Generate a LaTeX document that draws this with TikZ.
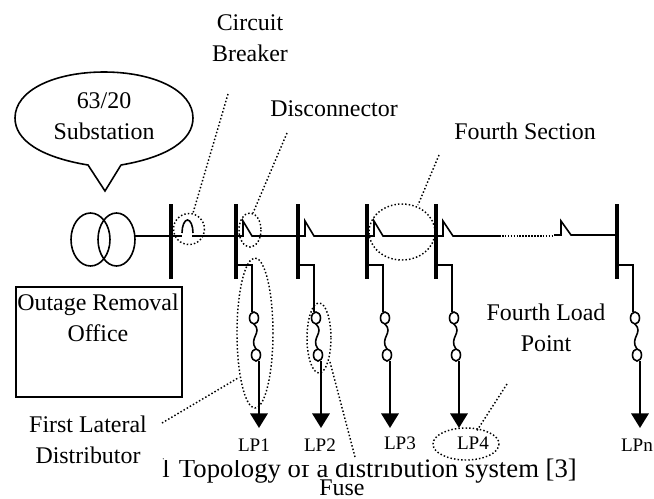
\documentclass[tikz,border=0pt]{standalone}
\usepackage{fontspec}
\setmainfont{Liberation Serif}
\usetikzlibrary{arrows.meta,calc}
\tikzset{
  lbl/.style={font=\fontsize{18}{23}\selectfont,align=center,inner sep=0pt},
  lpname/.style={font=\fontsize{14.4}{17}\selectfont,inner sep=0pt},
  ring/.style={draw,line width=1.1pt,dash pattern=on 1.1pt off 1.6pt},
  leader/.style={line width=1.1pt,dash pattern=on 1.1pt off 1.6pt},
  bus/.style={line width=2.6pt},
  wire/.style={line width=1.2pt},
  feed/.style={line width=1.9pt,-{Triangle[length=11pt,width=13pt]}}
}
\begin{document}
\begin{tikzpicture}[x=0.0264583cm,y=-0.0264583cm]
  \useasboundingbox (0,0) rectangle (654,498);
  % caption goes first, the labels cover its top
  \node[font=\fontsize{20.1}{24}\selectfont,inner sep=0pt,anchor=base west] (caption) at (162,477) {l\hspace{7pt}Topology of a distribution system [3]};
  \fill[white] (164,449) rectangle (283,459.5);
  \fill[white] (283,449) rectangle (340,464.5);
  \fill[white] (340,449) rectangle (395,463);

  % substation
  \draw[line width=1.2pt] (121,165) .. controls (168,157) and (193,140) .. (193,118)
    .. controls (193,90) and (153,72) .. (104,72) .. controls (55,72) and (15,90) .. (15,118)
    .. controls (15,140) and (40,157) .. (88,165) -- (105,191) -- (121,165);
  \node[lbl] (sub) at (104,116) {63/20\\Substation};
  \draw[wire] (90.5,239.5) ellipse[x radius=19.5,y radius=26.5];
  \draw[wire] (116.5,239.5) ellipse[x radius=18.5,y radius=26.5];
  \node[draw,line width=1.2pt,minimum width=125.2pt,minimum height=83pt,anchor=north west,inner sep=0pt] (office) at (15,286) {};
  \node[lbl,anchor=north] (officetxt) at (98,294) {Outage Removal\\Office};

  % main feeder
  \draw[wire] (135,236) -- (182,236);
  \draw[wire] (192,236) -- (236,236);
  \foreach \x in {171,236,298,367,436,617}
    \draw[bus] (\x,204) -- (\x,279);

  % breaker
  \draw[wire] (182,233) arc[start angle=180,end angle=360,x radius=5.5,y radius=13];

  % disconnectors and laterals
  \foreach \x/\xb in {236/298,298/367,367/436}
    \draw[wire] (\x,236) -- (\x+7,236) -- (\x+7,221) -- (\x+16,236) -- (\xb,236);
  \draw[wire] (436,236) -- (443,236) -- (443,221) -- (453,236) -- (499,236);
  \draw[wire,densely dotted] (499,236) -- (554,236);
  \draw[wire] (554,235) -- (561,235) -- (561,221) -- (571,235) -- (617,235);

  \foreach \x in {236,298,367,436,617}{
    \draw[wire] (\x,265) -- (\x+16,265) -- (\x+16,312);
    \draw[wire] (\x+18,318) circle[x radius=4.5,y radius=6];
    \draw[wire] (\x+18,324) .. controls (\x+27,333) and (\x+12,338) .. (\x+20,349);
    \draw[wire] (\x+20,355) circle[x radius=4.5,y radius=6];
    \draw[feed] (\x+23,361) -- (\x+23,428);
  }
  \node[lpname] (lpa) at (254,445) {LP1};
  \node[lpname] (lpb) at (320,445) {LP2};
  \node[lpname] (lpc) at (400,443) {LP3};
  \node[lpname] (lpd) at (473,443) {LP4};
  \node[lpname] (lpe) at (637,445) {LPn};

  % rings
  \draw[ring] (189,229) circle[radius=15.5];
  \draw[ring] (250,230) ellipse[x radius=11,y radius=17];
  \draw[ring] (402,232) ellipse[x radius=33,y radius=28];
  \draw[ring] (255,333) ellipse[x radius=18,y radius=75];
  \draw[ring] (319,338) ellipse[x radius=12,y radius=35];
  \draw[ring] (466,444) ellipse[x radius=33,y radius=16];

  % names and their leaders
  \node[lbl] (cb) at (250,38) {Circuit\\Breaker};
  \node[lbl] (disc) at (334,109) {Disconnector};
  \node[lbl] (fourth) at (525,131) {Fourth Section};
  \node[lbl] (fourthlp) at (546,328) {Fourth Load\\Point};
  \node[lbl] (first) at (88,440) {First Lateral\\Distributor};
  \node[lbl] (fuse) at (342,488) {Fuse};
  \coordinate (cbend) at (228,94);
  \coordinate (discend) at (287,133);
  \coordinate (fourthend) at (439,155);
  \coordinate (fourthlpend) at (507,384);
  \coordinate (firstend) at (162,423);
  \coordinate (fuseend) at (355,457);
  \draw[leader] (cbend) -- (193,213);
  \draw[leader] (discend) -- (253,213);
  \draw[leader] (fourthend) -- (418,205);
  \draw[leader] (fourthlpend) -- (476,432);
  \draw[leader] (firstend) -- (238,378);
  \draw[leader] (fuseend) -- (330,362);
\end{tikzpicture}
\end{document}
